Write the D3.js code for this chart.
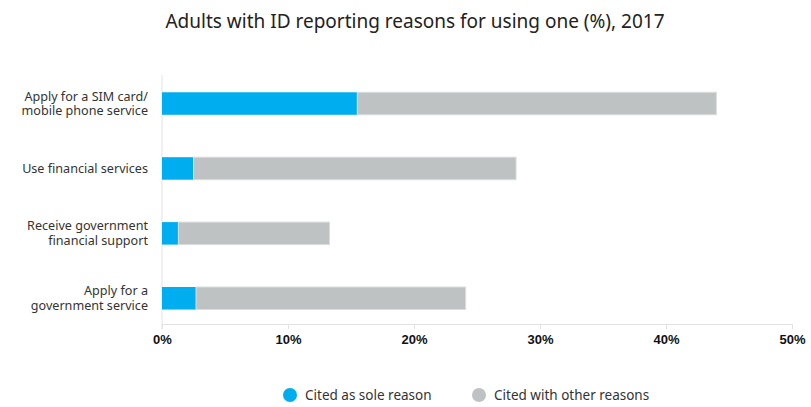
<!DOCTYPE html>
<html><head><meta charset="utf-8">
<script src="https://cdn.jsdelivr.net/npm/d3@7"></script>
<style>body{margin:0;background:#fff;} svg{display:block;font-family:"Noto Sans","Open Sans",sans-serif;}</style>
</head><body><svg id="c" width="811" height="407"></svg>
<script>
const categories = [["Apply for a SIM card/","mobile phone service"],["Use financial services"],["Receive government","financial support"],["Apply for a","government service"]];
const soleReason = [15.5, 2.5, 1.3, 2.7];
const otherReasons = [28.5, 25.6, 12.0, 21.4];
const xTicks = [0,10,20,30,40,50];
const seriesNames = ["Cited as sole reason","Cited with other reasons"];
const colors = ["#00aeef","#bec2c3"];

const svg = d3.select("#c");
const m = {left:162, right:792, top:72.8, bottom:324};
const x = d3.scaleLinear().domain([0,50]).range([m.left,m.right]);
const y = d3.scaleBand().domain(d3.range(categories.length)).range([72.8,329]).paddingInner(0.653).paddingOuter(0.3);

svg.append("text").attr("x",415).attr("y",28).attr("text-anchor","middle")
  .attr("font-size",19).attr("fill","#222").text("Adults with ID reporting reasons for using one (%), 2017");

// x axis
const xa = svg.append("g").attr("transform",`translate(0,${m.bottom})`)
  .call(d3.axisBottom(x).tickValues(xTicks).tickFormat(d=>d+"%").tickSize(5).tickSizeOuter(0));
xa.select(".domain").attr("stroke","#e2e2e2");
xa.selectAll(".tick line").attr("stroke","#e2e2e2");
xa.selectAll(".tick text").attr("font-size",13).attr("font-weight","bold").attr("fill","#111").attr("dy","0.95em");
// y axis line
svg.append("line").attr("x1",x(0)).attr("x2",x(0)).attr("y1",75).attr("y2",m.bottom+5).attr("stroke","#e2e2e2");

const stacked = categories.map((c,i)=>[[0,soleReason[i]],[soleReason[i],soleReason[i]+otherReasons[i]]]);
const g = svg.append("g");
categories.forEach((c,i)=>{
  stacked[i].forEach((s,j)=>{
    g.append("rect").attr("x",x(s[0])).attr("y",y(i)).attr("width",x(s[1])-x(s[0])).attr("height",y.bandwidth())
      .attr("fill",colors[j]).attr("stroke",j===1?"#dcdddd":"none").attr("stroke-width",1);
  });
  const t = svg.append("text").attr("text-anchor","end").attr("font-size",12.6).attr("fill","#333");
  const n = c.length;
  c.forEach((line,k)=>{
    t.append("tspan").attr("x",148).attr("y",y(i)+y.bandwidth()/2 + (k-(n-1)/2)*14.8).attr("dy","0.35em").text(line);
  });
});

// legend
const leg = [[290,seriesNames[0],colors[0]],[479,seriesNames[1],colors[1]]];
leg.forEach(([lx,name,col])=>{
  svg.append("circle").attr("cx",lx).attr("cy",395).attr("r",7).attr("fill",col);
  svg.append("text").attr("x",lx+15).attr("y",395).attr("dy","0.35em").attr("font-size",13.5).attr("fill","#333").text(name);
});
</script></body></html>
